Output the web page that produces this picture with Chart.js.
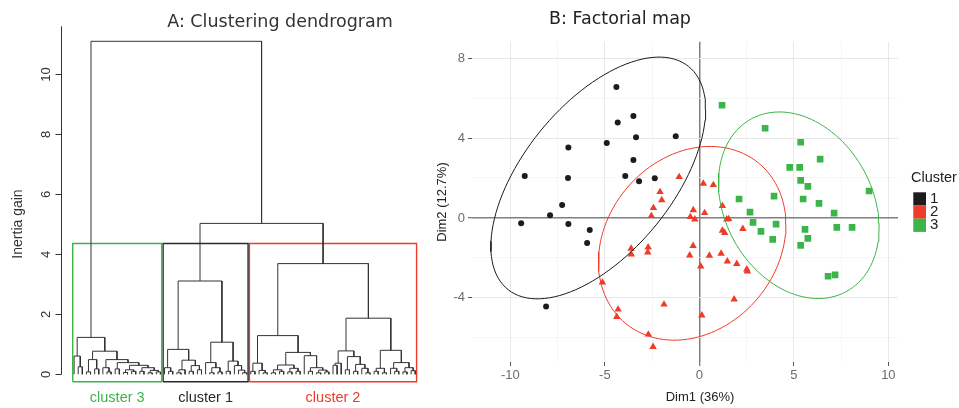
<!DOCTYPE html>
<html>
<head>
<meta charset="utf-8">
<script src="https://cdn.jsdelivr.net/npm/chart.js@4/dist/chart.umd.min.js"></script>
<style>
  html, body { margin: 0; padding: 0; background: #ffffff; }
  #page { position: relative; width: 959px; height: 408px; overflow: hidden; }
  #dendro { position: absolute; left: 0; top: 0; }
  #fmap { position: absolute; left: 430px; top: 0; }
</style>
</head>
<body>
<div id="page">
  <canvas id="dendro" width="430" height="408"></canvas>
  <canvas id="fmap" width="529" height="408"></canvas>
</div>
<script>
// ---------- Panel A: hierarchical clustering (Ward inertia gain) ----------
// Each merge is [height, left, right]; 0 marks a single individual (leaf).
const treeCluster3 = [1.23,
  [0.61, 0, [0.25, 0, 0]],
  [0.77,
    [0.49, [0.08, 0, 0], [0.18, 0, 0]],
    [0.49,
      [0.22, 0, [0.08, 0, 0]],
      [0.39,
        [0.18, 0, 0],
        [0.30,
          [0.15, [0.06, 0, 0], [0.10, 0, 0]],
          [0.22, [0.10, 0, 0], [0.13, [0.05, 0, 0], [0.08, 0, 0]]]]]]]];

const treeCluster1 = [3.11,
  [0.83,
    [0.22, 0, [0.10, 0, 0]],
    [0.47,
      [0.15, [0.05, 0, 0], 0],
      [0.29, [0.10, 0, 0], [0.15, 0, 0]]]],
  [1.07,
    [0.39, 0, [0.22, [0.05, 0, 0], [0.08, 0, 0]]],
    [0.44, [0.10, 0, 0], [0.29, 0, [0.14, 0, [0.05, 0, 0]]]]]];

const treeCluster2 = [3.69,
  [1.29,
    [0.37, [0.10, 0, 0], [0.13, 0, [0.05, 0, 0]]],
    [0.73,
      [0.31, [0.15, [0.05, 0, 0], [0.10, 0, 0]], [0.20, [0.08, 0, 0], [0.10, 0, 0]]],
      [0.62, 0, [0.22, [0.10, 0, 0], [0.14, [0.05, 0, 0], [0.08, 0, 0]]]]]],
  [1.87,
    [0.78,
      [0.37, [0.30, 0, 0], 0],
      [0.59, [0.15, 0, 0], [0.33, [0.10, 0, 0], [0.20, 0, [0.05, 0, 0]]]]],
    [0.80,
      [0.20, [0.10, 0, 0], [0.05, 0, 0]],
      [0.39, [0.20, 0, [0.10, 0, 0]], [0.22, [0.08, 0, 0], [0.12, 0, 0]]]]]];

// Last two merges: cluster 1 with cluster 2, then cluster 3 with the rest
const topMergeHeights = [5.03, 11.1];
const dendroClusterNames = ['cluster 3', 'cluster 1', 'cluster 2'];
const inertiaTicks = [0, 2, 4, 6, 8, 10];

// ---------- Panel B: individuals on the first factorial plane ----------
const c1Dim1 = [-4.39, -4.32, -3.49, -3.35, -4.90, -1.25, -6.93, -3.49, -9.24, -6.95,
                -3.92, -3.19, -2.36, -7.26, -7.90, -9.43, -6.93, -5.80, -5.94, -8.11];
const c1Dim2 = [6.55, 4.77, 5.10, 4.04, 3.75, 4.09, 3.52, 2.90, 2.10, 2.00,
                2.10, 1.84, 1.99, 0.65, 0.14, -0.27, -0.30, -0.60, -1.25, -4.43];

const c2Dim1 = [-1.07, 0.21, 0.74, -2.08, -1.99, -2.43, -2.54, 1.22, -0.32, 0.28,
                -0.48, -0.24, 1.45, 1.55, 1.22, 1.34, 2.30, -3.61, -3.60, -2.71,
                -2.73, -0.33, -0.51, 0.53, 1.15, 1.48, 1.98, 0.07, 2.51, 2.54,
                -5.13, 1.84, -1.87, -4.30, -4.37, 0.13, -2.70, -2.45];
const c2Dim2 = [2.05, 1.72, 1.65, 1.30, 0.89, 0.50, 0.10, 0.60, 0.39, 0.25,
                0.05, -0.07, -0.07, -0.05, -0.63, -0.75, -0.55, -1.53, -1.82, -1.47,
                -1.72, -1.40, -1.87, -1.88, -1.78, -2.17, -2.30, -2.42, -2.57, -2.67,
                -3.23, -4.07, -4.33, -4.58, -4.95, -4.87, -5.83, -6.45];

const c3Dim1 = [1.20, 3.48, 5.36, 6.39, 4.78, 5.31, 5.36, 5.74, 8.98, 2.10,
                3.95, 5.49, 6.33, 2.68, 7.13, 2.84, 4.06, 3.26, 5.59, 7.27,
                8.08, 3.88, 5.74, 5.36, 6.81, 7.18];
const c3Dim2 = [5.64, 4.49, 3.79, 2.94, 2.53, 2.53, 1.88, 1.58, 1.35, 0.95,
                1.09, 0.95, 0.73, 0.29, 0.24, -0.22, -0.31, -0.67, -0.57, -0.47,
                -0.47, -1.07, -1.02, -1.37, -2.92, -2.85];

// Concentration ellipses per cluster (centre and shape matrix)
const ellipseCentreX = [-5.35, -0.38, 5.26];
const ellipseCentreY = [2.00, -1.27, 0.635];
const ellipseVarX = [32.3, 24.6, 18.06];
const ellipseVarY = [36.6, 23.5, 21.8];
const ellipseCov = [19.5, 4.6, -4.8];

const clusterLabels = ['1', '2', '3'];
const clusterColors = ['#1c1c1c', '#ee3b2a', '#3bb44a'];
const dimTicksX = [-10, -5, 0, 5, 10];
const dimTicksY = [-4, 0, 4, 8];

const SANS = '"Liberation Sans", Arial, sans-serif';
const TITLE_FONT = '17.5px "DejaVu Sans", sans-serif';

// ---------- dendrogram layout ----------
let leafCount = 0;
const dendroPath = [];
function joinNodes(L, R, h) {
  dendroPath.push({x: L.x, y: L.h}, {x: L.x, y: h}, {x: R.x, y: h}, {x: R.x, y: R.h}, {x: R.x, y: null});
  return {x: (L.x + R.x) / 2, h: h, first: L.first, last: R.last};
}
function layoutTree(node) {
  if (node === 0) {
    leafCount += 1;
    return {x: leafCount, h: 0, first: leafCount, last: leafCount};
  }
  const L = layoutTree(node[1]);
  const R = layoutTree(node[2]);
  return joinNodes(L, R, node[0]);
}
const nodeC3 = layoutTree(treeCluster3);
const nodeC1 = layoutTree(treeCluster1);
const nodeC2 = layoutTree(treeCluster2);
const node12 = joinNodes(nodeC1, nodeC2, topMergeHeights[0]);
joinNodes(nodeC3, node12, topMergeHeights[1]);

// Boxes around the three clusters, cut between the 2nd and 3rd highest merges
const cutHeight = (topMergeHeights[0] + Math.max(treeCluster1[0], treeCluster2[0], treeCluster3[0])) / 2;
const boxBottom = -0.25;
const boxNodes = [nodeC3, nodeC1, nodeC2];
const boxColors = [clusterColors[2], '#2a2a2a', clusterColors[1]];
const boxDatasets = boxNodes.map((n, i) => {
  const x0 = n.first - 0.34, x1 = n.last + 0.33;
  return {
    data: [{x: x0, y: boxBottom}, {x: x0, y: cutHeight}, {x: x1, y: cutHeight}, {x: x1, y: boxBottom}, {x: x0, y: boxBottom}],
    showLine: true, borderColor: boxColors[i], borderWidth: 1.4, pointRadius: 0, tension: 0
  };
});

const dendroDecor = {
  id: 'dendroDecor',
  afterDraw(chart) {
    const {ctx, chartArea, scales} = chart;
    const ys = scales.y, xs = scales.x;
    ctx.save();
    ctx.strokeStyle = '#333333';
    ctx.lineWidth = 1;
    const ax = Math.round(chartArea.left) + 0.5;
    ctx.beginPath();
    ctx.moveTo(ax, ys.getPixelForValue(0));
    ctx.lineTo(ax, chartArea.top);
    ctx.stroke();
    ctx.fillStyle = '#333333';
    ctx.font = '13px ' + SANS;
    ctx.textAlign = 'center';
    ctx.textBaseline = 'middle';
    inertiaTicks.forEach(t => {
      const py = Math.round(ys.getPixelForValue(t)) + 0.5;
      ctx.beginPath();
      ctx.moveTo(ax - 6, py);
      ctx.lineTo(ax, py);
      ctx.stroke();
      ctx.save();
      ctx.translate(46, py);
      ctx.rotate(-Math.PI / 2);
      ctx.fillText(String(t), 0, 0);
      ctx.restore();
    });
    ctx.font = '14px ' + SANS;
    ctx.save();
    ctx.translate(18, 224);
    ctx.rotate(-Math.PI / 2);
    ctx.fillText('Inertia gain', 0, 0);
    ctx.restore();
    ctx.font = TITLE_FONT;
    ctx.textBaseline = 'alphabetic';
    ctx.fillText('A: Clustering dendrogram', 280, 26.5);
    ctx.font = '14.5px ' + SANS;
    ctx.textBaseline = 'middle';
    boxNodes.forEach((n, i) => {
      const cx = xs.getPixelForValue((n.first - 0.34 + n.last + 0.33) / 2);
      ctx.fillStyle = boxColors[i];
      ctx.fillText(dendroClusterNames[i], cx, 398);
    });
    ctx.restore();
  }
};

new Chart(document.getElementById('dendro'), {
  type: 'scatter',
  data: {
    datasets: [
      {data: dendroPath, showLine: true, borderColor: '#333333', borderWidth: 1, pointRadius: 0, tension: 0, spanGaps: false},
      ...boxDatasets
    ]
  },
  options: {
    responsive: false,
    animation: false,
    devicePixelRatio: 1,
    layout: {padding: {left: 60.7, right: 5, top: 26.3, bottom: 24.7}},
    scales: {
      x: {type: 'linear', display: false, min: -2.26, max: 86.38},
      y: {type: 'linear', display: false, min: -0.3, max: 11.6}
    },
    plugins: {legend: {display: false}, tooltip: {enabled: false}}
  },
  plugins: [dendroDecor]
});

// ---------- factorial map ----------
function toPoints(xs, ys) { return xs.map((v, i) => ({x: v, y: ys[i]})); }
function ellipsePoints(k) {
  const l11 = Math.sqrt(ellipseVarX[k]);
  const l21 = ellipseCov[k] / l11;
  const l22 = Math.sqrt(ellipseVarY[k] - l21 * l21);
  const pts = [];
  for (let s = 0; s <= 120; s++) {
    const t = s / 120 * 2 * Math.PI;
    pts.push({x: ellipseCentreX[k] + l11 * Math.cos(t), y: ellipseCentreY[k] + l21 * Math.cos(t) + l22 * Math.sin(t)});
  }
  return pts;
}

const ellipseSets = [0, 1, 2].map(k => ({
  data: ellipsePoints(k), showLine: true, borderColor: clusterColors[k], borderWidth: 1,
  pointRadius: 0, tension: 0, order: 0
}));
const pointSets = [
  {label: clusterLabels[0], data: toPoints(c1Dim1, c1Dim2), pointStyle: 'circle', pointRadius: 3},
  {label: clusterLabels[1], data: toPoints(c2Dim1, c2Dim2), pointStyle: 'triangle', pointRadius: 4.3},
  {label: clusterLabels[2], data: toPoints(c3Dim1, c3Dim2), pointStyle: 'rect', pointRadius: 4.7}
].map((d, k) => Object.assign(d, {
  backgroundColor: clusterColors[k], borderColor: clusterColors[k], borderWidth: 0, showLine: false, order: 1
}));

function gridColour(ctx) {
  const v = ctx.tick ? ctx.tick.value : NaN;
  if (v === 0) return '#7f7f7f';
  const major = ctx.scale.axis === 'x' ? dimTicksX : dimTicksY;
  return major.includes(v) ? '#e8e8e8' : '#f2f2f2';
}
function gridWidth(ctx) {
  const v = ctx.tick ? ctx.tick.value : NaN;
  if (v === 0) return 1.5;
  const major = ctx.scale.axis === 'x' ? dimTicksX : dimTicksY;
  return major.includes(v) ? 1 : 0.7;
}
function tickColour(ctx) {
  const v = ctx.tick ? ctx.tick.value : NaN;
  const major = ctx.scale.axis === 'x' ? dimTicksX : dimTicksY;
  return major.includes(v) ? '#555555' : 'rgba(0,0,0,0)';
}

const fmapDecor = {
  id: 'fmapDecor',
  afterDraw(chart) {
    const {ctx} = chart;
    ctx.save();
    ctx.fillStyle = '#222222';
    ctx.font = TITLE_FONT;
    ctx.textAlign = 'center';
    ctx.textBaseline = 'alphabetic';
    ctx.fillText('B: Factorial map', 190, 23.5);
    ctx.font = '13px ' + SANS;
    ctx.textBaseline = 'middle';
    ctx.fillText('Dim1 (36%)', 270, 397);
    ctx.save();
    ctx.translate(12, 202);
    ctx.rotate(-Math.PI / 2);
    ctx.fillText('Dim2 (12.7%)', 0, 0);
    ctx.restore();
    // legend
    ctx.textAlign = 'left';
    ctx.font = '14.5px ' + SANS;
    ctx.fillText('Cluster', 481, 178);
    ctx.font = '15px ' + SANS;
    pointSets.forEach((d, k) => {
      const top = 192.3 + k * 13.2;
      ctx.fillStyle = clusterColors[k];
      ctx.fillRect(483.3, top, 12.7, 13.2);
      ctx.fillStyle = '#222222';
      ctx.fillText(d.label, 500, top + 6.6);
    });
    ctx.restore();
  }
};

new Chart(document.getElementById('fmap'), {
  type: 'scatter',
  data: {datasets: [...ellipseSets, ...pointSets]},
  options: {
    responsive: false,
    animation: false,
    devicePixelRatio: 1,
    layout: {padding: {left: 0, right: 61, top: 41.7, bottom: 0}},
    scales: {
      x: {
        type: 'linear', min: -12.03, max: 10.51,
        border: {display: false},
        grid: {color: gridColour, lineWidth: gridWidth, drawTicks: true, tickLength: 4, tickColor: tickColour, tickWidth: 1},
        ticks: {
          stepSize: 2.5, includeBounds: false, autoSkip: false, maxRotation: 0, minRotation: 0, padding: 2,
          color: '#6b6b6b', font: {family: SANS, size: 13},
          callback: v => dimTicksX.includes(v) ? String(v) : ''
        },
        afterFit(s) { s.height = 46; }
      },
      y: {
        type: 'linear', min: -7.21, max: 8.82,
        border: {display: false},
        grid: {color: gridColour, lineWidth: gridWidth, drawTicks: true, tickLength: 4, tickColor: tickColour, tickWidth: 1},
        ticks: {
          stepSize: 2, includeBounds: false, autoSkip: false, padding: 3,
          color: '#6b6b6b', font: {family: SANS, size: 13},
          callback: v => dimTicksY.includes(v) ? String(v) : ''
        },
        afterFit(s) { s.width = 42; }
      }
    },
    plugins: {legend: {display: false}, tooltip: {enabled: false}}
  },
  plugins: [fmapDecor]
});
</script>
</body>
</html>
